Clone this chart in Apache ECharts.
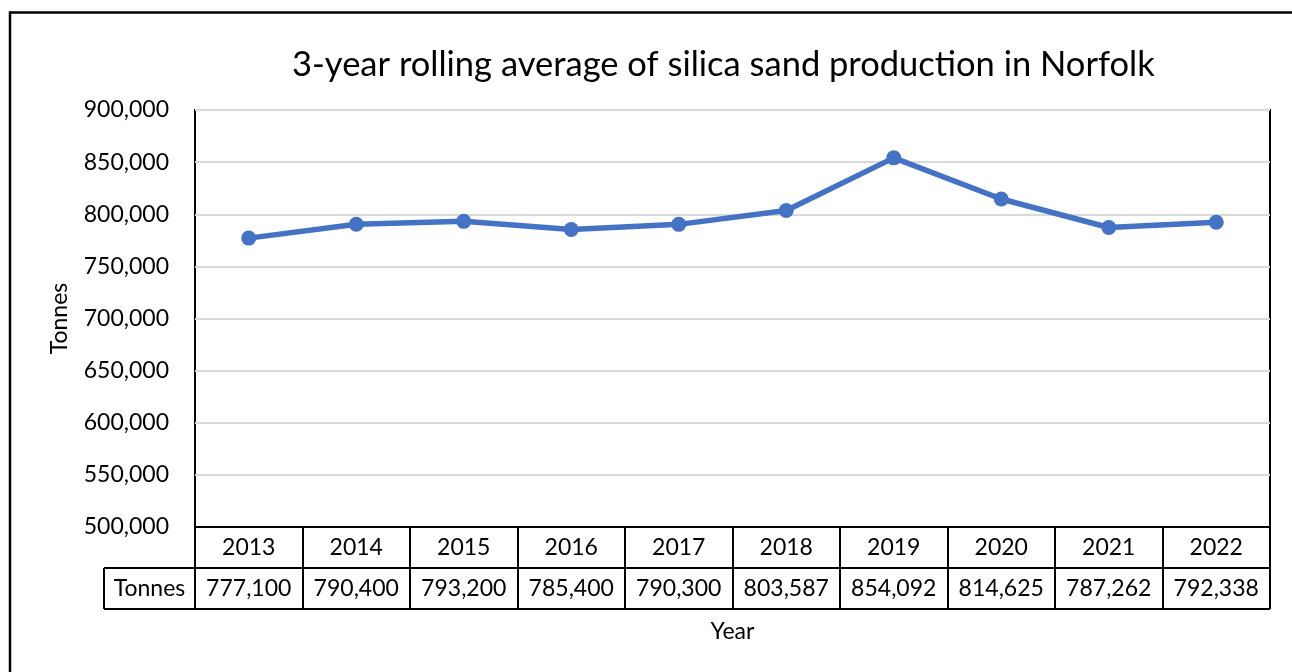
<!DOCTYPE html>
<html>
<head>
<meta charset="utf-8">
<script src="https://cdn.jsdelivr.net/npm/echarts@6/dist/echarts.min.js"></script>
<style>
html,body{margin:0;padding:0;background:#fff;}
#chart{width:1292px;height:672px;}
</style>
</head>
<body>
<div id="chart"></div>
<script>
var years = ['2013','2014','2015','2016','2017','2018','2019','2020','2021','2022'];
var tonnes = [777100, 790400, 793200, 785400, 790300, 803587, 854092, 814625, 787262, 792338];
var yTickMin = 500000, yTickMax = 900000, yTickStep = 50000;
var titleText = '3-year rolling average of silica sand production in Norfolk';
var seriesName = 'Tonnes';
var xName = 'Year';

var FONT = 'Lato';
var W = 1292, H = 672;
var gridLeft = 195, gridRight = 22, gridTop = 110, gridBottom = 145;
var plotBottom = H - gridBottom;   // 527
var rowH = 41;
var headLeft = 104;
var plotRight = W - gridRight;

function fmt(v){ return v.toLocaleString('en-US'); }

var chart = echarts.init(document.getElementById('chart'));
chart.setOption({
  animation: false,
  backgroundColor: '#fff',
  title: {
    text: titleText,
    left: 287, top: 42,
    textStyle: {fontFamily: FONT, fontSize: 34.5, fontWeight: 'normal', color: '#000'}
  },
  grid: {
    left: gridLeft, right: gridRight, top: gridTop, bottom: gridBottom,
    show: true, borderColor: '#000', borderWidth: 2, backgroundColor: 'transparent'
  },
  xAxis: {
    type: 'category',
    data: years,
    boundaryGap: true,
    name: xName,
    nameLocation: 'middle',
    nameGap: 93,
    nameTextStyle: {fontFamily: FONT, fontSize: 23, color: '#000'},
    axisLine: {show: true, lineStyle: {color: '#000', width: 2}},
    axisTick: {show: true, alignWithLabel: false, length: rowH * 2, lineStyle: {color: '#000', width: 2}},
    axisLabel: {
      margin: 0,
      interval: 0,
      formatter: function (v, i) { return '{y|' + v + '}\n{v|' + fmt(tonnes[i]) + '}'; },
      rich: {
        y: {fontFamily: FONT, fontSize: 23, color: '#000', lineHeight: rowH, height: rowH, align: 'center', verticalAlign: 'middle'},
        v: {fontFamily: FONT, fontSize: 23, color: '#000', lineHeight: rowH, height: rowH, align: 'center', verticalAlign: 'middle'}
      }
    },
    splitLine: {show: false}
  },
  yAxis: {
    type: 'value',
    min: yTickMin, max: yTickMax, interval: yTickStep,
    name: seriesName,
    nameLocation: 'middle',
    nameRotate: 90,
    nameGap: 124,
    nameTextStyle: {fontFamily: FONT, fontSize: 23, color: '#000'},
    axisLine: {show: false},
    axisTick: {show: false},
    axisLabel: {margin: 26, fontFamily: FONT, fontSize: 23, color: '#000', formatter: function (v) { return fmt(v); }},
    splitLine: {show: true, lineStyle: {color: '#d9d9d9', width: 2}}
  },
  series: [{
    name: seriesName,
    type: 'line',
    data: tonnes,
    symbol: 'circle',
    symbolSize: 15,
    lineStyle: {color: '#4472C4', width: 5.5},
    itemStyle: {color: '#4472C4'},
    z: 5
  }],
  graphic: [
    {type: 'rect', shape: {x: 10, y: 12.5, width: 1400, height: 800}, style: {fill: 'none', stroke: '#000', lineWidth: 2.5}, silent: true},
    {type: 'line', shape: {x1: headLeft, y1: plotBottom + rowH, x2: plotRight, y2: plotBottom + rowH}, style: {stroke: '#000', lineWidth: 2}, silent: true},
    {type: 'line', shape: {x1: headLeft, y1: plotBottom + rowH * 2, x2: plotRight, y2: plotBottom + rowH * 2}, style: {stroke: '#000', lineWidth: 2}, silent: true},
    {type: 'line', shape: {x1: headLeft, y1: plotBottom + rowH, x2: headLeft, y2: plotBottom + rowH * 2}, style: {stroke: '#000', lineWidth: 2}, silent: true},
    {type: 'text', x: (headLeft + gridLeft) / 2, y: plotBottom + rowH * 1.5, style: {text: seriesName, fontFamily: FONT, fontSize: 23, fill: '#000', align: 'center', verticalAlign: 'middle'}, silent: true}
  ]
});
</script>
</body>
</html>
